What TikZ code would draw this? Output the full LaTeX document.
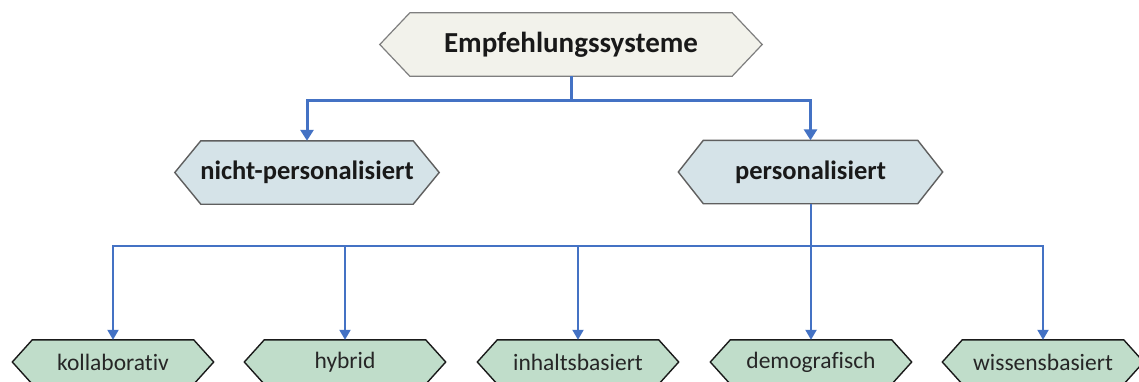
\documentclass[tikz,border=0pt]{standalone}
\usepackage{fontspec}
\setmainfont{Carlito}[Ligatures=NoCommon]
\usetikzlibrary{arrows.meta,calc,backgrounds}

\definecolor{linkblue}{HTML}{4472C4}
\definecolor{rootfill}{HTML}{F2F2EB}
\definecolor{rootdraw}{HTML}{7F7F7F}
\definecolor{midfill}{HTML}{D5E3E8}
\definecolor{middraw}{HTML}{5F5F5F}
\definecolor{leaffill}{HTML}{C0DDCA}
\definecolor{leafdraw}{HTML}{1A1A1A}

\tikzset{
  hexnode/.style={rectangle, inner sep=0pt, text=black!90},
  rootbox/.style={hexnode, minimum width=382pt, minimum height=63pt,
    font=\fontsize{29}{34}\selectfont\bfseries},
  midbox/.style={hexnode, minimum width=264pt, minimum height=63pt,
    font=\fontsize{26.5}{31}\selectfont\bfseries},
  leafbox/.style={hexnode, minimum width=201pt, minimum height=44pt,
    font=\fontsize{23.5}{28}\selectfont, text=black!85},
  thicklink/.style={draw=linkblue, line width=3pt,
    -{Triangle[length=11pt,width=13pt]}},
  thinlink/.style={draw=linkblue, line width=2pt,
    -{Triangle[length=10pt,width=11pt]}},
}

% hexagon outline spanning a node from tip to tip
\newcommand{\hexoutline}[5]{%
  \filldraw[fill=#3, draw=#4, line width=#5, line join=miter]
    (#1.west) -- ([xshift=#2]#1.north west) -- ([xshift=-#2]#1.north east)
    -- (#1.east) -- ([xshift=-#2]#1.south east) -- ([xshift=#2]#1.south west)
    -- cycle;}

\begin{document}
\begin{tikzpicture}[x=1pt,y=1pt]
  \useasboundingbox (0,0) rectangle (1139,-381);
  \clip (0,0) rectangle (1139,-381);

  % tree levels
  \node[rootbox] (root) at (571,-44.5) {Empfehlungssysteme};
  \node[midbox] (np) at (307,-172.5) {nicht-personalisiert};
  \node[midbox] (pers) at (810.5,-172) {personalisiert};

  \node[leafbox] (koll) at (113,-362) {kollaborativ};
  \node[leafbox] (hyb) at (345,-362) {hybrid};
  \node[leafbox] (inh) at (578,-362) {inhaltsbasiert};
  \node[leafbox] (demo) at (811,-362) {demografisch};
  \node[leafbox] (wiss) at (1043,-362) {wissensbasiert};

  \begin{scope}[on background layer]
    \fill[white] (0,0) rectangle (1139,-381);
    \hexoutline{root}{30pt}{rootfill}{rootdraw}{1.2pt}
    \hexoutline{np}{26pt}{midfill}{middraw}{1.4pt}
    \hexoutline{pers}{25pt}{midfill}{middraw}{1.4pt}
    \foreach \n in {koll,hyb,inh,demo,wiss}
      {\hexoutline{\n}{20pt}{leaffill}{leafdraw}{1.4pt}}
  \end{scope}

  % upper branching
  \coordinate (j1) at ($(root.south)+(0,-24)$);
  \draw[draw=linkblue, line width=3pt] (root.south) -- (j1);
  \draw[thicklink] (j1) -| (np.north);
  \draw[thicklink] (j1) -| (pers.north);

  % lower branching
  \coordinate (j2) at ($(pers.south)+(0,-42)$);
  \draw[draw=linkblue, line width=2pt] (pers.south) -- (j2);
  \foreach \n in {koll,hyb,inh,demo,wiss}
    {\draw[thinlink] (j2) -| (\n.north);}
\end{tikzpicture}
\end{document}
